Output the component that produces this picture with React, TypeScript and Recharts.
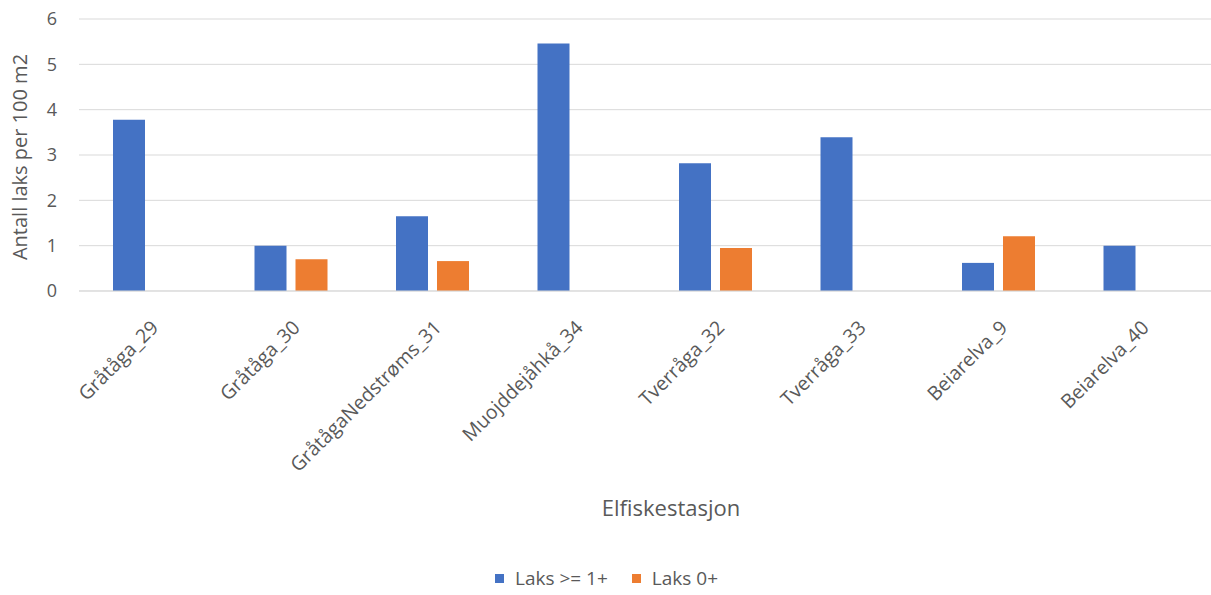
import { BarChart, Bar, XAxis, YAxis, CartesianGrid, Legend, Label } from "recharts";

const stations = [
  "Gråtåga_29",
  "Gråtåga_30",
  "GråtågaNedstrøms_31",
  "Muojddejåhkå_34",
  "Tverråga_32",
  "Tverråga_33",
  "Beiarelva_9",
  "Beiarelva_40",
];
const laksEldre = [3.78, 1.0, 1.65, 5.46, 2.82, 3.39, 0.62, 1.0];
const laks0 = [0, 0.7, 0.66, 0, 0.95, 0, 1.21, 0];
const yTicks = [0, 1, 2, 3, 4, 5, 6];

const data = stations.map((s, i) => ({ station: s, eldre: laksEldre[i], null0: laks0[i] }));

const FONT = "'Open Sans', sans-serif";
const GREY = "#595959";
const BLUE = "#4472c4";
const ORANGE = "#ed7d31";

function StationTick(props: any) {
  const { x, y, payload } = props;
  const ax = x + 5;
  const ay = y + 25;
  return (
    <text
      x={ax}
      y={ay}
      transform={`rotate(-45, ${ax}, ${ay})`}
      textAnchor="end"
      dy="0.35em"
      fill={GREY}
      fontSize={19.5}
      fontFamily={FONT}
    >
      {payload.value}
    </text>
  );
}

function LegendBox() {
  const items = [
    { name: "Laks >= 1+", color: BLUE },
    { name: "Laks 0+", color: ORANGE },
  ];
  return (
    <div style={{ display: "flex", alignItems: "center", height: 34, paddingLeft: 495, fontFamily: FONT, fontSize: 19, color: GREY }}>
      {items.map((it) => (
        <div key={it.name} style={{ display: "flex", alignItems: "center", marginRight: 24 }}>
          <span style={{ display: "inline-block", width: 9, height: 9, background: it.color, marginRight: 11 }} />
          <span>{it.name}</span>
        </div>
      ))}
    </div>
  );
}

export default function App() {
  return (
    <div style={{ position: "absolute", left: 0, top: 0, background: "#fff" }}>
      <BarChart
        width={1211}
        height={595}
        data={data}
        margin={{ top: 19, right: 0, left: 0, bottom: 0 }}
        barSize={32}
        barGap={9}
      >
        <CartesianGrid vertical={false} stroke="#d9d9d9" />
        <XAxis
          dataKey="station"
          height={270}
          interval={0}
          tick={<StationTick />}
          tickLine={false}
          axisLine={{ stroke: "#d9d9d9" }}
        >
          <Label
            content={() => (
              <text x={671} y={516} textAnchor="middle" fill={GREY} fontSize={22} fontFamily={FONT}>
                Elfiskestasjon
              </text>
            )}
          />
        </XAxis>
        <YAxis
          width={79}
          domain={[0, 6]}
          ticks={yTicks}
          tickSize={0}
          tickMargin={22}
          tickLine={false}
          axisLine={false}
          tick={{ fill: GREY, fontSize: 18, fontFamily: FONT }}
        >
          <Label
            content={() => (
              <text
                x={27}
                y={157}
                transform="rotate(-90, 27, 157)"
                textAnchor="middle"
                fill={GREY}
                fontSize={20}
                fontFamily={FONT}
              >
                Antall laks per 100 m2
              </text>
            )}
          />
        </YAxis>
        <Legend verticalAlign="bottom" height={34} content={() => <LegendBox />} />
        <Bar dataKey="eldre" name="Laks >= 1+" fill={BLUE} isAnimationActive={false} />
        <Bar dataKey="null0" name="Laks 0+" fill={ORANGE} isAnimationActive={false} />
      </BarChart>
    </div>
  );
}
